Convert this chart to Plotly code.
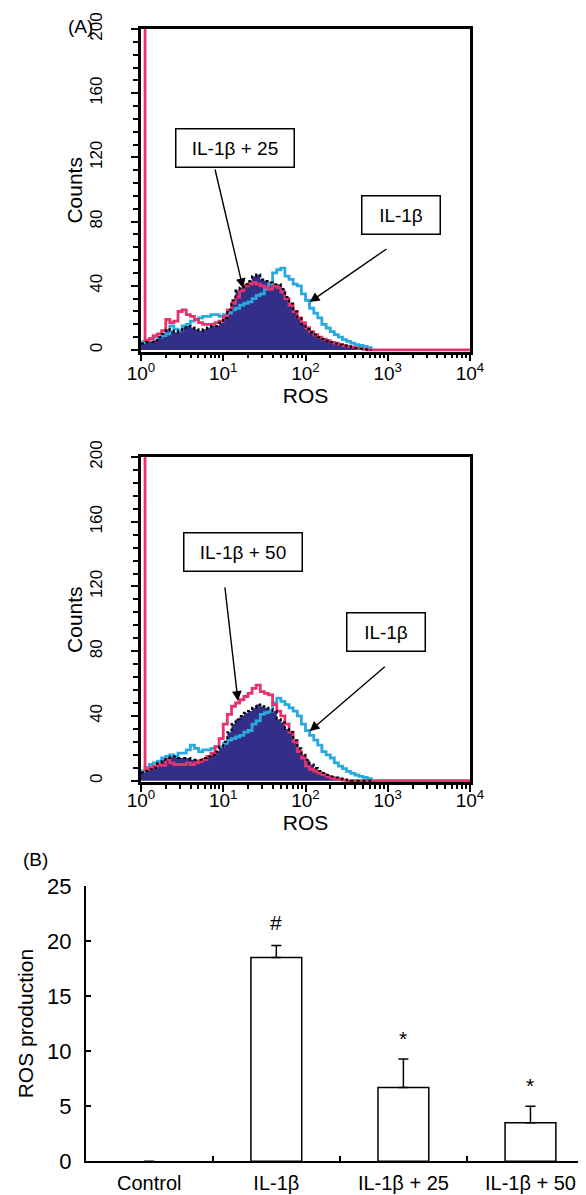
import plotly.graph_objects as go

# ---------------- data ----------------
# ROS fluorescence bin positions (flow cytometry channels, log scale)
ROS_BINS = [1.00, 1.12, 1.26, 1.41, 1.58, 1.78, 2.00, 2.24, 2.51, 2.82,
            3.16, 3.55, 3.98, 4.47, 5.01, 5.62, 6.31, 7.08, 7.94, 8.91,
            10.0, 11.2, 12.6, 14.1, 15.8, 17.8, 20.0, 22.4, 25.1, 28.2,
            31.6, 35.5, 39.8, 44.7, 50.1, 56.2, 63.1, 70.8, 79.4, 89.1,
            100, 112, 126, 141, 158, 178, 200, 224, 251, 282,
            316, 355, 398, 447, 501, 562, 631]
PINK_TAIL_X = 10000  # last channel of the pink trace (baseline to the end)

# Panel A, top: IL-1beta + 25 (pink), IL-1beta (cyan), base (navy filled)
TOP_IL1B_25 = [250, 6, 7, 9, 10, 12, 19, 17, 18, 24,
               25, 22, 21, 19, 17, 16, 16, 16, 17, 18,
               21, 25, 29, 33, 37, 40, 41, 42, 41, 40,
               39, 38, 40, 39, 36, 32, 28, 24, 20, 17,
               14, 11.5, 9.5, 8, 6.8, 5.8, 4.8, 4.2, 3.5, 2.8,
               2.3, 1.8, 1.3, 0.8, 0.4, 0, 0]
TOP_IL1B = [5, 6, 7, 8, 8, 9, 10, 15, 13, 12,
            15, 16, 18, 19, 20, 21, 21, 22, 22, 21,
            22, 23, 25, 26, 28, 29, 30, 32, 34, 35,
            38, 41, 48, 50, 51, 46, 44, 41, 40, 35,
            31, 26, 23, 20, 16, 13.7, 11.5, 9.6, 8, 6.5,
            5.4, 4.3, 3.4, 2.8, 2.3, 1.5, 0.8]
TOP_BASE = [4, 5, 5, 6, 8, 10, 13, 12, 11, 12,
            14, 15, 14, 13, 12, 13, 14, 15, 15, 17,
            20, 25, 31, 37, 39, 41, 43, 46, 47, 44,
            43, 42, 41, 41, 38, 33, 29, 24, 20, 16,
            13, 11, 9.6, 8, 6.8, 5.8, 4.8, 4.0, 3.3, 2.7,
            2.3, 1.7, 1.2, 0.8, 0.4, 0, 0]

# Panel A, bottom: IL-1beta + 50 (pink), IL-1beta (cyan), base (navy filled)
BOT_IL1B_50 = [250, 7, 8, 9, 10, 9.5, 13, 11, 10, 10,
               10, 11, 10, 11, 12, 13, 15, 17, 21, 26,
               35, 41, 46, 48, 50, 52, 54, 57, 59, 55,
               54, 53, 47, 43, 40, 35, 30, 24, 18, 14,
               9, 7, 5.8, 4.7, 3.7, 2.6, 1.8, 1.2, 0.8, 0.4,
               0, 0, 0, 0, 0, 0, 0]
BOT_IL1B = [6, 8, 10, 11, 12, 14, 15, 16, 15, 17,
            17, 19, 22, 20, 18, 19, 19, 20, 21, 21,
            23, 25, 26, 27, 28, 30, 31, 35, 37, 41,
            42, 43, 48, 51, 49, 47, 45, 43, 40, 35,
            31, 28, 25, 22, 18, 16, 14, 11, 9, 7.5,
            5.8, 4.5, 3.5, 2.7, 2, 1.2, 0.6]
BOT_BASE = [5, 6, 7, 8, 11, 13, 14, 15, 15, 14,
            14, 14, 13, 13, 13, 14, 15, 16, 18, 21,
            24, 30, 35, 38, 40, 42, 43, 45, 47, 46,
            45, 44, 43, 38, 36, 32, 30, 25, 20, 16,
            13, 10, 7.8, 6, 4.7, 3.5, 2.6, 2, 1.3, 0.8,
            0.4, 0, 0, 0, 0, 0, 0]

# Panel B
GROUPS = ["Control", "IL-1β", "IL-1β + 25", "IL-1β + 50"]
ROS_MEAN = [0, 18.5, 6.7, 3.5]
ROS_ERR = [0, 1.1, 2.6, 1.5]
SIG_MARK = ["", "#", "*", "*"]
SIG_Y = [None, 21.7, 11.15, 6.9]

X_TICKVALS = [1, 10, 100, 1000, 10000]
X_TICKTEXT = ["10<sup>0</sup>", "10<sup>1</sup>", "10<sup>2</sup>",
              "10<sup>3</sup>", "10<sup>4</sup>"]
X_MINOR = [m * 10 ** e for e in range(4) for m in range(2, 10)]

# ---------------- styling ----------------
FONT = "Liberation Sans, Arial, sans-serif"
PINK = "#e8326e"
CYAN = "#2aa9e0"
NAVY = "#332e88"

W, H = 586, 1195


def px_x(p):
    return p / W


def px_y(p):
    return 1 - p / H


fig = go.Figure()


def add_hist(xa, ya, base, cyan, pink):
    fig.add_trace(go.Scatter(x=ROS_BINS, y=base, mode="lines", line_shape="hv",
                             line=dict(color=NAVY, width=0), fill="tozeroy",
                             fillcolor=NAVY, xaxis=xa, yaxis=ya, showlegend=False,
                             hoverinfo="skip"))
    fig.add_trace(go.Scatter(x=ROS_BINS, y=cyan, mode="lines", line_shape="hv",
                             line=dict(color=CYAN, width=2.8), xaxis=xa, yaxis=ya,
                             showlegend=False))
    fig.add_trace(go.Scatter(x=ROS_BINS + [PINK_TAIL_X], y=pink + [0], mode="lines",
                             line_shape="hv", line=dict(color=PINK, width=2.8),
                             xaxis=xa, yaxis=ya, showlegend=False))
    fig.add_trace(go.Scatter(x=ROS_BINS, y=base, mode="lines", line_shape="hv",
                             line=dict(color="black", width=2, dash="dot"),
                             xaxis=xa, yaxis=ya, showlegend=False))


add_hist("x", "y", TOP_BASE, TOP_IL1B, TOP_IL1B_25)
add_hist("x2", "y2", BOT_BASE, BOT_IL1B, BOT_IL1B_50)

# Panel B bars (zero-height control bar drawn without outline)
fig.add_trace(go.Bar(x=GROUPS, y=ROS_MEAN, width=0.4,
                     marker=dict(color="white",
                                 line=dict(color="black",
                                           width=[0 if v == 0 else 1.5 for v in ROS_MEAN])),
                     error_y=dict(type="data", array=ROS_ERR, arrayminus=[0] * 4,
                                  symmetric=False, color="black", thickness=1.5,
                                  width=5),
                     xaxis="x3", yaxis="y3", showlegend=False))

x_dom = [px_x(133), px_x(462)]


def hist_xaxis(dom_anchor, lab_off):
    return dict(type="log", range=[0, 4], domain=x_dom, anchor=dom_anchor,
                showline=True, linecolor="black", linewidth=2.5, mirror=True,
                ticks="outside", ticklen=7, tickwidth=2, tickcolor="black",
                tickvals=X_TICKVALS, ticktext=X_TICKTEXT,
                minor=dict(tickvals=X_MINOR, ticks="outside", ticklen=4,
                           tickwidth=2, tickcolor="black"),
                tickfont=dict(family=FONT, size=19, color="black"),
                ticklabelstandoff=lab_off,
                title=dict(text="ROS", font=dict(family=FONT, size=21, color="black"),
                           standoff=0),
                showgrid=False, zeroline=False)


def hist_yaxis(dom, anchor):
    return dict(range=[-1, 200], domain=dom, anchor=anchor,
                showline=True, linecolor="black", linewidth=2.5, mirror=True,
                tickmode="array", tickvals=[0, 40, 80, 120, 160, 200],
                ticks="outside", ticklen=7, tickwidth=2, tickcolor="black",
                minor=dict(dtick=8, ticks="outside", ticklen=5, tickwidth=2,
                           tickcolor="black"),
                tickangle=-90, ticklabelstandoff=22,
                tickfont=dict(family=FONT, size=17, color="black"),
                title=dict(text="Counts", font=dict(family=FONT, size=21, color="black"),
                           standoff=0),
                showgrid=False, zeroline=False)


fig.update_layout(
    width=W, height=H,
    margin=dict(l=0, r=0, t=0, b=0),
    paper_bgcolor="white", plot_bgcolor="white",
    template="none",
    font=dict(family=FONT, color="black"),
    showlegend=False,
    xaxis=hist_xaxis("y", -4),
    yaxis=hist_yaxis([px_y(343.6), px_y(21)], "x"),
    xaxis2=hist_xaxis("y2", -8),
    yaxis2=hist_yaxis([px_y(774.3), px_y(449)], "x2"),
    xaxis3=dict(domain=[px_x(77.7), 1.0], anchor="y3", range=[-0.5, 3.5],
                type="category", showline=True, linecolor="black", linewidth=1.5,
                ticks="inside", tickson="boundaries", ticklen=6, tickwidth=1.5,
                tickcolor="black", ticklabelstandoff=3,
                tickfont=dict(family=FONT, size=20, color="black"),
                showgrid=False, zeroline=False),
    yaxis3=dict(domain=[px_y(1153.3), px_y(878)], anchor="x3", range=[0, 25],
                dtick=5, showline=True, linecolor="black", linewidth=1.5,
                ticks="inside", ticklen=6, tickwidth=1.5, tickcolor="black",
                ticklabelstandoff=8,
                tickfont=dict(family=FONT, size=22, color="black"),
                title=dict(text="ROS production",
                           font=dict(family=FONT, size=21, color="black"),
                           standoff=8),
                showgrid=False, zeroline=False),
    bargap=0.6,
)

annotations = []

# panel letters
annotations.append(dict(text="(A)", x=px_x(72), y=px_y(18), xref="paper", yref="paper",
                        xanchor="center", yanchor="middle", showarrow=False,
                        font=dict(family=FONT, size=19, color="black")))
annotations.append(dict(text="(B)", x=px_x(27), y=px_y(851), xref="paper", yref="paper",
                        xanchor="center", yanchor="middle", showarrow=False,
                        font=dict(family=FONT, size=19, color="black")))


def box(text, xa, ya, xlog, y, w):
    return dict(text=text, x=xlog, y=y, xref=xa, yref=ya, showarrow=False,
                bgcolor="white", bordercolor="black", borderwidth=1.5, borderpad=1,
                width=w, height=35, align="center",
                font=dict(family=FONT, size=19, color="black"))


def arrow(xa, ya, hx, hy, tx, ty):
    return dict(text="", x=hx, y=hy, ax=tx, ay=ty, xref=xa, yref=ya,
                axref=xa, ayref=ya, showarrow=True, arrowhead=2, arrowsize=1.4,
                arrowwidth=1.4, arrowcolor="black", standoff=0, startstandoff=0)


annotations += [
    box("IL-1β + 25", "x", "y", 1.145, 125.9, 115),
    box("IL-1β", "x", "y", 3.155, 84.1, 75),
    arrow("x", "y", 1.240, 38.6, 0.896, 113.4),
    arrow("x", "y", 2.051, 29.9, 3.003, 63.6),
    box("IL-1β + 50", "x2", "y2", 1.246, 141.6, 115),
    box("IL-1β", "x2", "y2", 2.973, 91.8, 75),
    arrow("x2", "y2", 1.179, 49.3, 1.018, 120.4),
    arrow("x2", "y2", 2.051, 30.6, 2.982, 71.2),
]

for g, m, sy in zip(GROUPS, SIG_MARK, SIG_Y):
    if m:
        annotations.append(dict(text=m, x=g, y=sy, xref="x3", yref="y3",
                                showarrow=False,
                                font=dict(family=FONT, size=21, color="black")))

fig.update_layout(annotations=annotations)

fig.write_html("out.html")
